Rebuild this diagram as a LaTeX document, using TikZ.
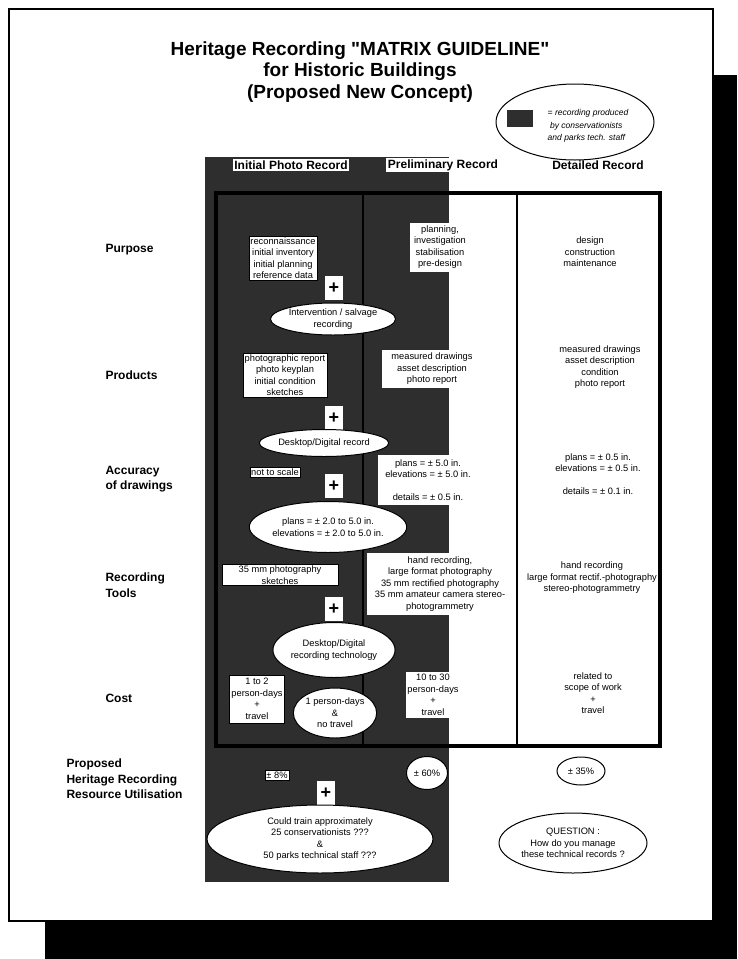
\documentclass[tikz,border=0pt]{standalone}
\usepackage{fontspec}
\setmainfont{Liberation Sans}
\usetikzlibrary{shapes.geometric}

\begin{document}
\begin{tikzpicture}[x=1pt,y=-1pt,
    txt/.style={font=\fontsize{9.3}{11.5}\selectfont,align=center,inner sep=1.5pt},
    wbox/.style={txt,fill=white,draw=black,line width=.4pt},
    wfill/.style={txt,fill=white},
    plusbox/.style={fill=white,minimum width=18pt,minimum height=24pt,inner sep=0pt,font=\bfseries\fontsize{18}{18}\selectfont},
    oval/.style={txt,ellipse,draw=black,fill=white,line width=1pt,inner sep=0pt},
    rowlab/.style={anchor=west,align=left,font=\bfseries\fontsize{12}{15.5}\selectfont},
    colhead/.style={font=\bfseries\fontsize{12}{14}\selectfont,inner sep=1.5pt}]
  \useasboundingbox (0,0) rectangle (737,959);
  \fill[white] (0,0) rectangle (737,959);
  \fill[black] (45,75) rectangle (737,959);
  \fill[white] (9,9) rectangle (713,921);
  \draw[line width=1.2pt] (9,9) rectangle (713,921);
  \fill[black!82] (205,157) rectangle (449,882);
  \draw[line width=3.5pt] (216,193) rectangle (660,746);
  \draw[line width=1.2pt] (363,193) -- (363,746);
  \draw[line width=1.2pt] (517,193) -- (517,746);

  \node[align=center,font=\bfseries\fontsize{19}{21.5}\selectfont] (title) at (360,72)
    {Heritage Recording \textquotedbl MATRIX GUIDELINE\textquotedbl\\for Historic Buildings\\(Proposed New Concept)};
  \node[ellipse,draw,line width=1pt,minimum width=158pt,minimum height=76pt] (legend) at (575,122) {};
  \fill[black!82] (507,110) rectangle (533,127);
  \node[align=left,font=\itshape\fontsize{8.5}{12.5}\selectfont] (legtxt) at (588,126)
    {= recording produced\\\ by conservationists\\and parks tech. staff};

  \node[colhead,fill=white] (hinit) at (291,165) {Initial Photo Record};
  \node[colhead,fill=white] (hprel) at (443,165) {Preliminary Record};
  \node[colhead] (hdet) at (598,165) {Detailed Record};

  \node[rowlab] (purpose) at (102,250) {Purpose};
  \node[rowlab] (products) at (102,375) {Products};
  \node[rowlab] (accuracy) at (102,479) {Accuracy\\of drawings};
  \node[rowlab] (tools) at (102,585) {Recording\\Tools};
  \node[rowlab] (cost) at (102,698) {Cost};
  \node[rowlab] (resource) at (63,779) {Proposed\\Heritage Recording\\Resource Utilisation};

  \node[wbox] (pur1) at (283,258) {reconnaissance\\initial inventory\\initial planning\\reference data};
  \node[plusbox] (plus1) at (334,288) {+};
  \node[oval,minimum width=120pt,minimum height=32pt] (ell1) at (333,319) {Intervention / salvage\\recording};
  \node[wfill,minimum width=60pt,minimum height=49pt] (pur2) at (440,247) {planning,\\investigation\\stabilisation\\pre-design};
  \node[txt] (pur3) at (590,252) {design\\construction\\maintenance};

  \node[wbox] (prod1) at (285,375) {photographic report\\photo keyplan\\initial condition\\sketches};
  \node[wfill,minimum width=101pt,minimum height=38pt] (prod2) at (432,369) {measured drawings\\asset description\\photo report};
  \node[txt] (prod3) at (600,367) {measured drawings\\asset description\\condition\\photo report};
  \node[plusbox] (plus2) at (334,418) {+};
  \node[oval,minimum width=118pt,minimum height=27pt] (ell2) at (324,443) {Desktop/Digital record};

  \node[wbox] (acc1) at (275,472) {not to scale};
  \node[plusbox] (plus3) at (334,486) {+};
  \node[oval,minimum width=127pt,minimum height=51pt] (ell3) at (328,527) {plans = ± 2.0 to 5.0 in.\\elevations = ± 2.0 to 5.0 in.};
  \node[wfill,minimum width=100pt,minimum height=50pt] (acc2) at (428,480) {plans = ± 5.0 in.\\elevations = ± 5.0 in.\\[11.5pt]details = ± 0.5 in.};
  \node[txt] (acc3) at (598,474) {plans = ± 0.5 in.\\elevations = ± 0.5 in.\\[11.5pt]details = ± 0.1 in.};

  \node[wbox,minimum width=116pt] (tool1) at (280,575) {35 mm photography\\sketches};
  \node[wfill,minimum width=146pt,minimum height=62pt] (tool2) at (440,584) {hand recording,\\large format photography\\35 mm rectified photography\\35 mm amateur camera stereo-\\photogrammetry};
  \node[txt] (tool3) at (592,578) {hand recording\\large format rectif.-photography\\stereo-photogrammetry};
  \node[plusbox] (plus4) at (334,609) {+};
  \node[oval,minimum width=118pt,minimum height=55pt] (ell4) at (334,650) {Desktop/Digital\\recording technology};

  \node[wbox,minimum width=55pt,minimum height=48pt] (cost1) at (257,699) {1 to 2\\person-days\\+\\travel};
  \node[oval,minimum width=80pt,minimum height=50pt] (ell5) at (335,713) {1 person-days\\\&\\no travel};
  \node[wfill,minimum height=46pt] (cost2) at (433,695) {10 to 30\\person-days\\+\\travel};
  \node[txt] (cost3) at (593,693) {related to\\scope of work\\+\\travel};

  \node[wbox] (res1) at (277,775) {± 8\%};
  \node[plusbox] (plus5) at (326,793) {+};
  \node[oval,minimum width=41pt,minimum height=33pt] (res2) at (427,773) {± 60\%};
  \node[oval,minimum width=226pt,minimum height=68pt] (ell6) at (320,839) {Could train approximately\\25 conservationists ???\\\&\\50 parks technical staff ???};
  \node[oval,minimum width=48pt,minimum height=28pt] (res3) at (581,771) {± 35\%};
  \node[oval,minimum width=148pt,minimum height=60pt] (quest) at (573,843) {QUESTION :\\How do you manage\\these technical records ?};
\end{tikzpicture}
\end{document}
